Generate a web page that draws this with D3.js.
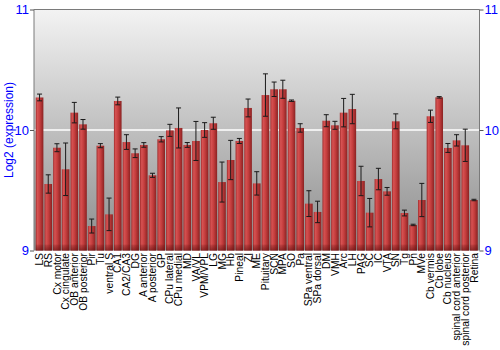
<!DOCTYPE html>
<html>
<head>
<meta charset="utf-8">
<script src="https://cdn.jsdelivr.net/npm/d3@7"></script>
<style>
  html, body { margin: 0; padding: 0; background: #fff; }
  svg { display: block; font-family: "Liberation Sans", Arial, sans-serif; }
</style>
</head>
<body>
<svg id="chart" width="500" height="350"></svg>
<script>
const categories = ["LS","RS","Cx motor","Cx cingulate","OB anterior","OB posterior","Pir","Tu","ventral S","CA1","CA2/CA3","DG","A anterior","A posterior","GP","CPu lateral","CPu medial","MD","VA/VL","VPM/VPL","LG","MG","Hb","Pineal","ZI","ME","Pituitary","SCN","MPA","SO","Pa","SPa ventral","SPa dorsal","DM","VMH","Arc","LH","PAG","SC","IC","VTA","SN","Tg","Pn","MVe","Cb vermis","Cb lobe","Cb nucleus","spinal cord anterior","spinal cord posterior","Retina"];
const values = [10.27,9.552,9.853,9.674,10.144,10.047,9.203,9.870,9.300,10.241,9.900,9.807,9.876,9.624,9.923,9.997,10.017,9.876,9.909,10.0,10.056,9.568,9.751,9.909,10.183,9.557,10.29,10.338,10.338,10.243,10.017,9.389,9.320,10.077,10.039,10.144,10.174,9.577,9.314,9.593,9.491,10.072,9.311,9.212,9.419,10.114,10.271,9.851,9.914,9.873,9.419];
const errors = [0.028,0.076,0.033,0.218,0.085,0.04,0.058,0.017,0.135,0.032,0.061,0.036,0.019,0.017,0.022,0.05,0.166,0.02,0.162,0.061,0.05,0.166,0.163,0.021,0.074,0.097,0.176,0.06,0.075,0.006,0.035,0.107,0.089,0.05,0.033,0.118,0.122,0.122,0.118,0.089,0.032,0.062,0.024,0.006,0.138,0.051,0.006,0.037,0.047,0.134,0.006];
const yTicks = [9, 10, 11];
const yTitle = "Log2 (expression)";

const svg = d3.select("#chart");
const pLeft = 34, pRight = 479.5, pTop = 9.5, pBottom = 250.5;

const x = d3.scaleBand().domain(categories).range([pLeft, pRight]).paddingInner(0.12).paddingOuter(0.2);
const y = d3.scaleLinear().domain([9, 11]).range([pBottom, pTop]);

const defs = svg.append("defs");
const bg = defs.append("linearGradient").attr("id", "bg").attr("x1", 0).attr("y1", 0).attr("x2", 0).attr("y2", 1);
bg.append("stop").attr("offset", "0%").attr("stop-color", "#f3f3f3");
bg.append("stop").attr("offset", "100%").attr("stop-color", "#8c8c8c");

const bar = defs.append("linearGradient").attr("id", "bar").attr("x1", 0).attr("y1", 0).attr("x2", 1).attr("y2", 0);
bar.append("stop").attr("offset", "0%").attr("stop-color", "#a02c2c");
bar.append("stop").attr("offset", "22%").attr("stop-color", "#d65252");
bar.append("stop").attr("offset", "55%").attr("stop-color", "#c43d3d");
bar.append("stop").attr("offset", "100%").attr("stop-color", "#8a2222");

const foot = defs.append("linearGradient").attr("id", "foot").attr("x1", 0).attr("y1", 0).attr("x2", 0).attr("y2", 1);
foot.append("stop").attr("offset", "0%").attr("stop-color", "#5a0c0c").attr("stop-opacity", 0.15);
foot.append("stop").attr("offset", "100%").attr("stop-color", "#5a0c0c").attr("stop-opacity", 0.6);

svg.append("rect").attr("x", pLeft).attr("y", pTop).attr("width", pRight - pLeft).attr("height", pBottom - pTop).attr("fill", "url(#bg)");

svg.append("line").attr("x1", pLeft).attr("x2", pRight).attr("y1", y(10)).attr("y2", y(10))
  .attr("stroke", "#ffffff").attr("stroke-width", 1.5);

const bw = x.bandwidth();
svg.append("g").selectAll("rect").data(categories).join("rect")
  .attr("x", d => x(d))
  .attr("y", (d, i) => y(values[i]))
  .attr("width", bw)
  .attr("height", (d, i) => pBottom - y(values[i]))
  .attr("fill", "url(#bar)");
svg.append("g").selectAll("rect").data(categories).join("rect")
  .attr("x", d => x(d))
  .attr("y", pBottom - 6)
  .attr("width", bw)
  .attr("height", 6)
  .attr("fill", "url(#foot)");

const eg = svg.append("g").attr("stroke", "#1a1a1a").attr("stroke-width", 1);
categories.forEach((c, i) => {
  const cx = x(c) + bw / 2;
  const y1 = y(values[i] + errors[i]), y2 = y(values[i] - errors[i]);
  eg.append("line").attr("x1", cx).attr("x2", cx).attr("y1", y1).attr("y2", y2);
  eg.append("line").attr("x1", cx - 2.5).attr("x2", cx + 2.5).attr("y1", y1).attr("y2", y1);
  eg.append("line").attr("x1", cx - 2.5).attr("x2", cx + 2.5).attr("y1", y2).attr("y2", y2);
});

svg.append("line").attr("x1", pLeft).attr("x2", pRight).attr("y1", pTop).attr("y2", pTop).attr("stroke", "#7a7a7a");

const yl = d3.axisLeft(y).tickValues(yTicks).tickFormat(d3.format("d")).tickSize(4).tickPadding(1);
const yr = d3.axisRight(y).tickValues(yTicks).tickFormat(d3.format("d")).tickSize(4).tickPadding(1);
const gl = svg.append("g").attr("transform", `translate(${pLeft},0)`).call(yl);
const gr = svg.append("g").attr("transform", `translate(${pRight},0)`).call(yr);
[gl, gr].forEach(g => {
  g.select(".domain").attr("stroke", "#7a7a7a").attr("d", `M0,${pTop}V${pBottom}`);
  g.selectAll(".tick line").attr("stroke", "#555");
  g.selectAll(".tick text").attr("fill", "#0000ff").attr("font-size", 13)
    .attr("font-family", "'Liberation Sans', Arial, sans-serif");
});

const xa = d3.axisBottom(x).tickSize(0).tickPadding(3);
const gx = svg.append("g").attr("transform", `translate(0,${pBottom})`).call(xa);
gx.select(".domain").remove();
gx.selectAll(".tick text")
  .attr("font-size", 10.3)
  .attr("font-family", "'Liberation Sans', Arial, sans-serif")
  .attr("fill", "#000")
  .attr("transform", "rotate(-90)")
  .attr("text-anchor", "end")
  .attr("x", -2.5)
  .attr("y", 0)
  .attr("dy", "0.35em");

svg.append("text")
  .attr("transform", `translate(13,${(pTop + pBottom) / 2}) rotate(-90)`)
  .attr("text-anchor", "middle")
  .attr("font-size", 12)
  .attr("fill", "#0000ff")
  .text(yTitle);
</script>
</body>
</html>
